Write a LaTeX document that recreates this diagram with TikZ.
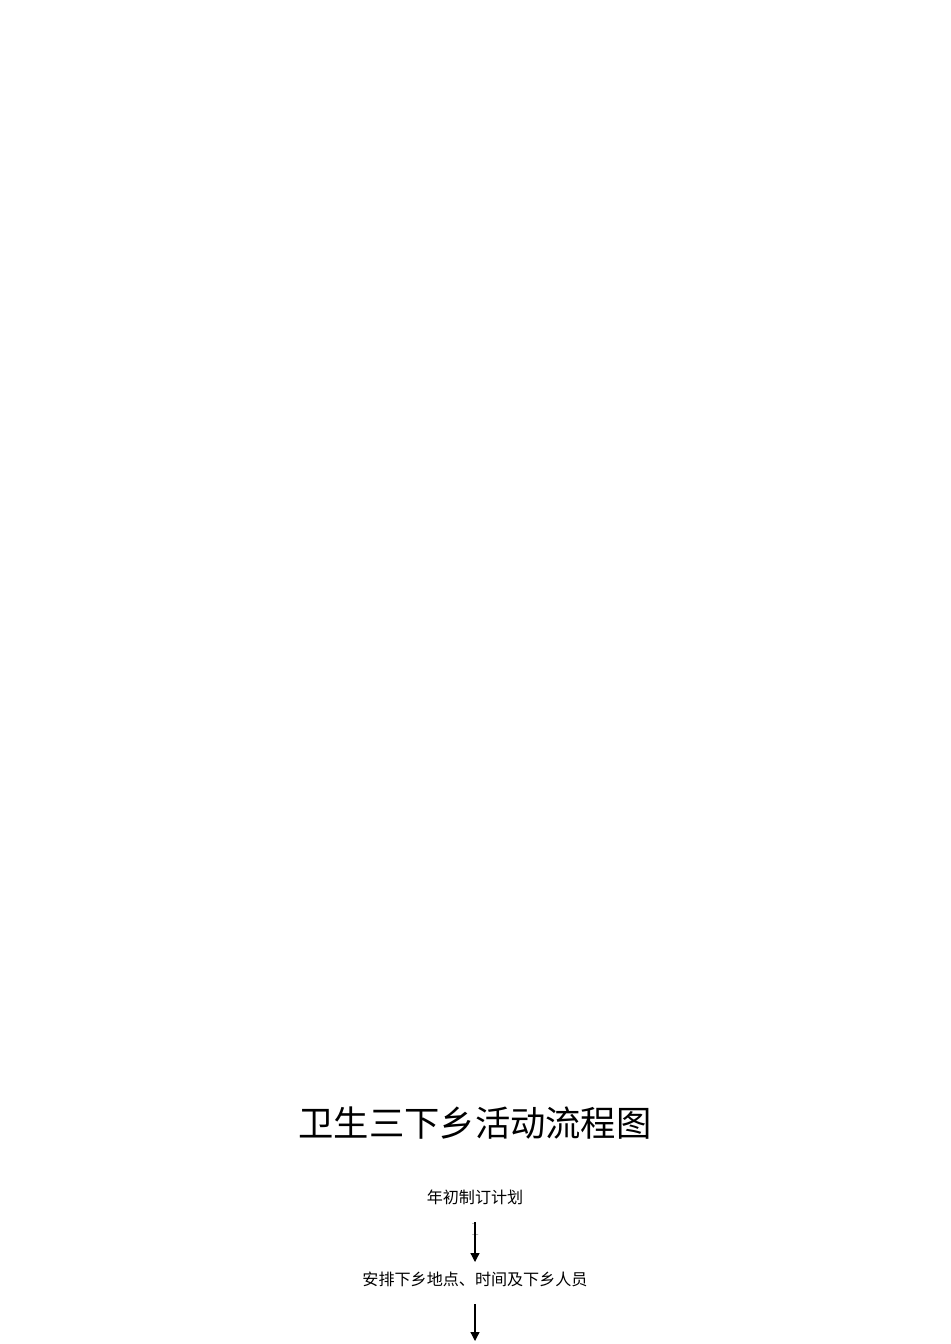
\documentclass[tikz,border=0pt]{standalone}
\usepackage{fontspec}
\newfontfamily\cjk{Noto Sans CJK SC}
\usetikzlibrary{arrows.meta}
\begin{document}
\begin{tikzpicture}[x=0.02cm,y=-0.02cm]
      \useasboundingbox (0,0) rectangle (950,1344);
      \tikzset{step text/.style={font=\cjk\fontsize{9.15}{10}\selectfont, inner sep=0pt}}
      \draw
        (475,1123) node[font=\cjk\fontsize{20.1}{24}\selectfont, inner sep=0pt] (title){卫生三下乡活动流程图}
        (475,1197) node[step text] (plan){年初制订计划}
        (475,1279) node[step text] (arrange){安排下乡地点、时间及下乡人员}
        (475,1229) node[font=\fontsize{11}{11}\selectfont, inner sep=0pt, gray] (one){1};
      \coordinate (a1s) at (475,1222);
      \coordinate (a1e) at (475,1262);
      \coordinate (a2s) at (475,1304);
      \coordinate (a2e) at (475,1341);
      \begin{scope}[-{Triangle[length=5pt,width=5pt]}, line width=0.7pt]
        \draw (a1s) to (a1e);
        \draw (a2s) to (a2e);
      \end{scope}
    \end{tikzpicture}
\end{document}
